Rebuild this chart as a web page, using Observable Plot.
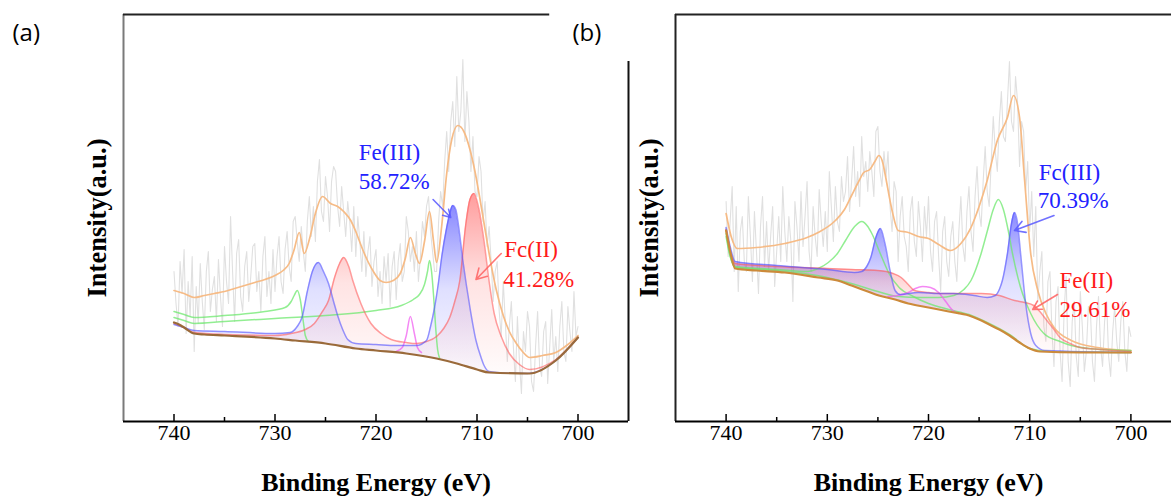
<!DOCTYPE html>
<html><head><meta charset="utf-8">
<script src="https://cdn.jsdelivr.net/npm/d3@7"></script>
<script src="https://cdn.jsdelivr.net/npm/@observablehq/plot@0.6"></script>
<style>
html,body{margin:0;padding:0;background:#fff;overflow:hidden;}
#wrap{position:relative;width:1171px;height:497px;overflow:hidden;background:#fff;}
#pa{position:absolute;left:0;top:0;width:640px;height:497px;}
#pb{position:absolute;left:560px;top:0;width:621px;height:497px;}
#wrap svg text{font-family:'Liberation Serif','Times New Roman',serif;}
#wrap svg g.tag text{font-family:'Open Sans','Liberation Sans',sans-serif;}
</style></head><body><div id="wrap"><div id="pa"></div><div id="pb"></div></div>
<script>
// ---------- shared axis data ----------
const majorTicks = [740, 730, 720, 710, 700];
const minorTicks = [735, 725, 715, 705];
const energyGrid = d3.range(0, 201).map(i => +(740 - 0.2 * i).toFixed(1)); // raw spectrum energies (eV)

// ---------- panel (a) ----------
const rawA = [
  150,118,95,160,128,172,88,140,105,165,
  70,135,98,158,120,92,150,170,110,132,
  145,100,162,125,95,175,140,118,205,150,
  100,168,182,125,110,155,170,120,145,175,
  178,130,150,110,165,185,125,150,118,172,
  130,165,185,140,128,172,190,155,140,200,
  205,180,160,195,170,150,200,225,185,215,
  180,240,262,210,200,245,225,190,240,255,
  250,215,195,235,210,185,220,200,170,215,
  165,205,180,150,190,145,170,185,135,160,
  172,125,150,118,165,140,168,115,155,170,
  122,160,178,140,150,205,190,160,175,150,
  190,140,165,200,185,215,225,190,170,150,
  150,200,230,215,260,290,250,300,320,275,
  345,290,310,362,280,330,300,250,285,230,
  225,265,250,200,220,175,195,160,120,150,
  160,110,85,140,100,60,95,120,75,40,
  105,60,28,90,70,110,95,40,30,75,
  110,55,45,90,100,38,75,112,60,85,
  50,95,120,70,60,115,90,70,130,85,
  95];
const envelopeA = [[740,131],[739,128],[738,124],[737,126],[736,128],[735,130],[734,133],[733,136],[732,139],[731,142],[730,146],[729.2,151],[728.6,158],[728.1,172],[727.6,189],[727.1,168],[726.6,182],[726,208],[725.3,225],[724.5,218],[723.8,215],[723.2,210],[722.5,201],[722,190],[721.4,174],[720.8,160],[720.2,149],[719.6,141],[719,139],[718.3,141],[717.6,148],[717.1,163],[716.6,184],[716.1,168],[715.7,158],[715.2,180],[714.7,210],[714.3,180],[714,159],[713.5,195],[713,248],[712.5,282],[711.9,296],[711.3,290],[710.7,272],[710.2,250],[709.7,222],[709.2,192],[708.8,168],[708.1,132],[707.4,106],[706.8,90],[706.1,78],[705.5,70],[704.8,64],[703.5,66],[702.2,69],[701,77],[700,86]];
const backgroundA = [[740,99],[739.5,97],[739,94],[738,88],[737,87],[735,86],[730,83],[728,81],[725,78],[722,73],[720,71],[717,68],[714,63],[712,58],[710,52],[708.8,49],[704.8,48],[702.2,61],[700,84]];
const fe3A = [[740,97],[739,94],[738,91],[735,90],[730,88],[728.5,89],[727.8,95],[727.3,105],[726.8,130],[726.3,150],[725.7,159],[725.2,150],[724.7,138],[724.2,120],[723.8,106],[723.3,92],[722.8,82],[722,78],[720,77],[718,76],[716,76],[715,81],[714.6,95],[714.2,114],[713.8,140],[713.5,164],[713,194],[712.7,208],[712.4,216],[712.1,212],[711.9,201],[711.4,161],[710.7,114],[710.1,81],[709.6,64],[709.3,56],[708.8,50],[708,49],[705,48],[702.2,61],[700,84]];
const fe2A = [[740,98],[739,94],[738,89],[735,87],[730,86],[728.4,88],[727,92],[726.1,98],[725.3,110],[724.7,121],[724.1,144],[723.6,158],[723.2,164],[722.7,155],[722.3,141],[721.5,118],[720.5,98],[719.5,88],[718.5,82],[717,79],[716,78],[715,80],[714,85],[713.3,93],[712.7,104],[712.2,120],[711.7,141],[711.1,198],[710.7,222],[710.3,228],[709.8,212],[709.3,180],[708.8,140],[708.3,108],[707.6,85],[706.8,68],[705.8,57],[704.8,52],[702.2,62],[700,84]];
const satA1 = [[740,110],[739,107],[738,104],[735,106],[731,110],[729,114],[728.4,120],[728.1,126],[727.8,131],[727.5,122],[727.2,100],[727,86],[726.7,80]];
const satA2 = [[740,104],[739,101],[738,98],[735,100],[730,103],[725,106],[720,111],[717.5,116],[716.3,122],[715.7,127],[715.2,137],[714.9,150],[714.7,161],[714.5,150],[714.3,126],[714.1,95],[713.9,72],[713.7,63]];
const extraA = [[718,70],[717.4,74],[717,86],[716.6,105],[716.2,88],[715.9,74],[715.5,69]];

// ---------- panel (b) ----------
const rawB = [
  220,165,200,235,150,215,130,190,205,160,
  150,225,185,140,210,170,128,195,225,155,
  200,150,185,215,135,170,205,160,235,190,
  160,205,180,120,220,195,160,230,175,205,
  240,170,150,215,185,165,232,200,175,210,
  170,250,215,180,235,200,190,245,220,230,
  265,210,240,275,225,250,215,285,245,260,
  230,270,250,225,290,295,250,235,270,245,
  270,215,190,240,230,160,205,225,185,175,
  150,210,225,180,165,220,195,160,215,185,
  225,170,150,200,210,165,130,190,205,160,
  145,185,200,160,140,190,225,175,160,210,
  235,190,170,225,255,210,195,240,275,230,
  215,260,305,270,250,300,330,285,280,320,
  360,300,290,345,320,255,300,290,230,260,
  190,230,165,215,120,150,170,95,80,140,
  150,90,55,120,135,70,40,110,145,60,
  35,100,120,65,45,130,95,50,70,115,
  110,60,40,95,125,75,55,100,120,65,
  45,90,115,80,60,100,120,70,50,95,
  85];
const envelopeB = [[740,208],[739.5,185],[738.9,173],[737,174],[734.2,178],[732,184],[730.9,189],[729.2,201],[728.3,212],[727.6,226],[726.9,240],[726.4,249],[725.8,252],[725.3,260],[724.9,266],[724.5,258],[724.3,248],[723.6,211],[723,191],[722,189],[721,185],[720,183],[719,177],[717.8,171],[716.8,178],[715.8,194],[715,215],[714.2,241],[713.2,281],[712.2,304],[711.6,326],[711,304],[710.5,241],[709.9,168],[709.2,131],[708.4,108],[707.6,94],[705.9,81],[703.3,74],[700,71]];
const backgroundB = [[740,191],[739.6,170],[739.1,153],[737,151],[734.2,149],[730.9,144],[729,141],[727.6,136],[726,130],[724.9,126],[723.3,122],[722,118],[720,114],[718,110],[716,106],[715,102],[714,97],[713,92],[712,86],[711,79],[710,73],[709,70],[705,69],[700,69]];
const fe3B = [[740,194],[739.6,175],[739.1,160],[735,156],[730,152],[727.3,149],[726.6,150],[726.1,155],[725.7,164],[725.2,184],[724.75,193],[724.3,178],[723.8,151],[723.3,131],[722.8,127],[721,129],[719,128],[717.5,128],[715.5,126],[714.2,124],[713.4,126],[713,132],[712.7,141],[712.2,168],[711.8,198],[711.5,209],[711.2,198],[710.9,168],[710.4,118],[709.9,88],[709.4,76],[708.5,71],[700,69]];
const fe2B = [[740,192],[739.6,172],[739.1,158],[735,155],[730,153],[727.6,152],[725,151],[723.5,148],[722.7,144],[722,137],[721.4,131],[720,129],[718.8,128],[716,128],[714.8,128],[713,126],[711.5,121],[710.5,119],[709.6,116],[709,110],[708.3,101],[707.6,92],[707,84],[706,78],[705,74],[703,72],[700,70]];
const satB1 = [[740,185],[739.6,165],[739.1,155],[735,152],[732,150],[730.9,153],[729.9,159],[729,168],[728.2,181],[727.3,195],[726.6,200],[726,195],[725.6,188],[724.6,164],[723.9,148],[722.9,134],[721.5,125],[720,118],[718,112],[716,107],[714,98],[712,87],[710,73],[708,70],[700,69]];
const satB2 = [[740,188],[739.6,166],[739.1,154],[735,151],[731,146],[728,139],[725,130],[723,125],[720.8,124],[719,124],[717.5,126],[716.5,132],[715.8,141],[714.8,168],[714.2,190],[713.6,212],[713.1,222],[712.6,212],[712.1,190],[711.7,168],[710.9,134],[709.9,108],[708.6,88],[707,80],[705.9,76],[703,72],[700,71]];
const extraB = [[724,125],[723,126],[722,129],[721.3,133],[720.6,135],[719.8,134],[719,129],[718.3,120],[717.6,111],[717,108]];

// ---------- labels ----------
const labelsA = [
  {t: "Fe(III)", e: 721.7, v: 269, c: "#2222ff"},
  {t: "58.72%", e: 721.7, v: 240, c: "#2222ff"},
  {t: "Fc(II)", e: 707.3, v: 172, c: "#ff1a1a"},
  {t: "41.28%", e: 707.4, v: 142, c: "#ff1a1a"}
];
const labelsB = [
  {t: "Fc(III)", e: 709.1, v: 249, c: "#2222ff"},
  {t: "70.39%", e: 709.2, v: 221, c: "#2222ff"},
  {t: "Fe(II)", e: 707.05, v: 141, c: "#ff1a1a"},
  {t: "29.61%", e: 707.05, v: 112, c: "#ff1a1a"}
];
const arrowsA = [
  {x1: 714.35, y1: 222, x2: 712.6, y2: 204, c: "#5858ff"},
  {x1: 707.6, y1: 168, x2: 710.1, y2: 142, c: "#ff6060"}
];
const arrowsB = [
  {x1: 707.6, y1: 206, x2: 711.5, y2: 191, c: "#5858ff"},
  {x1: 707.25, y1: 127, x2: 709.7, y2: 112, c: "#ff6060"}
];

const SERIF = "'Liberation Serif','Times New Roman',serif";

function interp(series) {
  const xs = series.map(d => d[0]), ys = series.map(d => d[1]);
  return x => {
    if (x >= xs[0]) return ys[0];
    for (let i = 0; i < xs.length - 1; i++) {
      const a = xs[i], b = xs[i + 1];
      if (x <= a && x >= b) { const t = (a - x) / (a - b); return ys[i] + t * (ys[i + 1] - ys[i]); }
    }
    return ys[ys.length - 1];
  };
}

function addGradients(svg, id) {
  const defs = d3.select(svg).insert("defs", ":first-child");
  for (const [name, color, stops] of [
    ["Blue", "#3a3aff", [[0, 0.6], [0.5, 0.16], [1, 0.02]]],
    ["Red", "#ff3a3a", [[0, 0.5], [0.5, 0.14], [1, 0.02]]]
  ]) {
    const g = defs.append("linearGradient").attr("id", id + name).attr("x1", 0).attr("y1", 0).attr("x2", 0).attr("y2", 1);
    for (const [o, a] of stops) g.append("stop").attr("offset", o).attr("stop-color", color).attr("stop-opacity", a);
  }
}

function panel(cfg) {
  const bg = interp(cfg.background);
  const xy = {x: d => d[0], y: d => d[1]};
  const raw = cfg.raw.map((v, i) => [energyGrid[i], v]);
  const smooth = "monotone-x";
  const marks = [
    Plot.line(raw, {...xy, stroke: "#e0e0e0", strokeWidth: 1.1}),
    Plot.areaY(cfg.fe2, {x: d => d[0], y1: d => bg(d[0]), y2: d => d[1], fill: `url(#${cfg.id}Red)`, curve: smooth}),
    Plot.areaY(cfg.fe3, {x: d => d[0], y1: d => bg(d[0]), y2: d => d[1], fill: `url(#${cfg.id}Blue)`, curve: smooth}),
    Plot.line(cfg.envelope, {...xy, stroke: "#f6bb86", strokeWidth: 1.7, curve: smooth}),
    Plot.line(cfg.sat1, {...xy, stroke: "#6ee86e", strokeOpacity: 0.75, strokeWidth: 1.5, curve: smooth}),
    Plot.line(cfg.sat2, {...xy, stroke: "#6ee86e", strokeOpacity: 0.75, strokeWidth: 1.5, curve: smooth}),
    Plot.line(cfg.extra, {...xy, stroke: "#f060f0", strokeOpacity: 0.75, strokeWidth: 1.5, curve: smooth}),
    Plot.line(cfg.fe2, {...xy, stroke: "#ff5c5c", strokeOpacity: 0.6, strokeWidth: 1.5, curve: smooth}),
    Plot.line(cfg.fe3, {...xy, stroke: "#5050ff", strokeOpacity: 0.6, strokeWidth: 1.5, curve: smooth}),
    Plot.line(cfg.background, {...xy, stroke: cfg.bgColor, strokeWidth: 2.2, curve: smooth}),
    ...cfg.frame,
    Plot.ruleY([0], {stroke: "#000", strokeWidth: 2}),
    Plot.ruleX(majorTicks, {y1: 0, y2: 7, stroke: "#000", strokeWidth: 1.5}),
    Plot.ruleX(minorTicks, {y1: 0, y2: 4, stroke: "#000", strokeWidth: 1.5}),
    Plot.axisX({ticks: majorTicks, tickSize: 0, tickPadding: 3, fontSize: 22, tickFormat: d => String(d), fill: "#000"}),
    Plot.text(["Binding Energy (eV)"], {frameAnchor: "bottom", dy: 61, textAnchor: "middle", lineAnchor: "middle", fontSize: 26, fontWeight: "bold", fill: "#000"}),
    Plot.text(["Intensity(a.u.)"], {frameAnchor: "left", dx: -26, rotate: -90, textAnchor: "middle", lineAnchor: "middle", fontSize: 26.5, fontWeight: "bold", fill: "#000"}),
    Plot.text([cfg.tag], {frameAnchor: "top-left", dx: cfg.tagDx, dy: 19, textAnchor: "start", lineAnchor: "middle", fontSize: 24, fill: "#000", className: "tag"}),
    Plot.arrow(cfg.arrows, {x1: "x1", y1: "y1", x2: "x2", y2: "y2", stroke: d => d.c, strokeWidth: 1.6, headLength: 11, strokeOpacity: 0.85}),
    Plot.text(cfg.labels, {x: "e", y: "v", text: "t", fill: d => d.c, textAnchor: "start", lineAnchor: "middle", fontSize: 23})
  ];
  const svg = Plot.plot({
    width: cfg.width, height: 497,
    marginTop: 14, marginBottom: 76, marginLeft: cfg.ml, marginRight: cfg.mr,
    x: {domain: [745, 695], axis: null},
    y: {domain: [0, 407], axis: null},
    style: {background: "transparent", maxWidth: "none", overflow: "visible", fontFamily: SERIF},
    marks
  });
  addGradients(svg, cfg.id);
  return svg;
}

const svgA = panel({
  id: "pa", width: 640, ml: 123, mr: 12, raw: rawA, envelope: envelopeA, background: backgroundA,
  fe3: fe3A, fe2: fe2A, sat1: satA1, sat2: satA2, extra: extraA, bgColor: "#9a6a3a",
  labels: labelsA, arrows: arrowsA, tag: "(a)", tagDx: -111,
  frame: [
    Plot.ruleX([745], {stroke: "#7a7a7a", strokeWidth: 2}),
    Plot.ruleY([407], {x1: 745, x2: 702.8, stroke: "#222", strokeWidth: 2}),
    Plot.ruleX([695], {y1: 0, y2: 360, stroke: "#111", strokeWidth: 2})
  ]
});
document.getElementById("pa").appendChild(svgA);

const svgB = panel({
  id: "pb", width: 621, ml: 115, mr: 0, raw: rawB, envelope: envelopeB, background: backgroundB,
  fe3: fe3B, fe2: fe2B, sat1: satB1, sat2: satB2, extra: extraB, bgColor: "#cc8a3a",
  labels: labelsB, arrows: arrowsB, tag: "(b)", tagDx: -103,
  frame: [
    Plot.ruleX([745], {stroke: "#222", strokeWidth: 2}),
    Plot.ruleY([407], {stroke: "#222", strokeWidth: 2})
  ]
});
document.getElementById("pb").appendChild(svgB);
</script></body></html>
